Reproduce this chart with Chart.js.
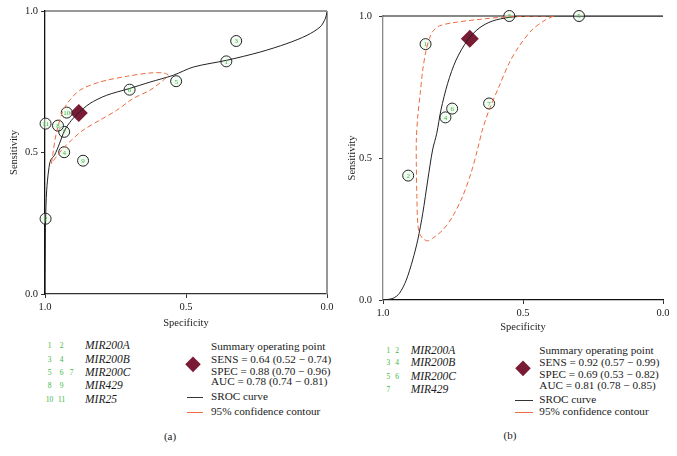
<!DOCTYPE html>
<html><head><meta charset="utf-8">
<script src="https://cdn.jsdelivr.net/npm/chart.js@4.4.1/dist/chart.umd.min.js"></script>
<style>
body{margin:0;width:677px;height:456px;background:#fff;position:relative;overflow:hidden;font-family:'Liberation Serif',serif;color:#1a1a1a}
canvas{position:absolute;top:0}
.t{position:absolute;white-space:nowrap;line-height:1;transform:translateY(-50%);font-size:11.2px}
.c{transform:translate(-50%,-50%)}
.n{position:absolute;white-space:nowrap;line-height:1;transform:translate(-50%,-50%);font-size:7.5px;color:#3db83d}
.mir{font-style:italic;font-size:11.5px}
.dia{position:absolute;width:10.5px;height:10.5px;background:#7a1b35;transform:translate(-50%,-50%) rotate(45deg)}
.ln{position:absolute;height:0}
</style></head><body>
<canvas id="ca" width="340" height="332" style="left:0"></canvas>
<canvas id="cb" width="332" height="336" style="left:340px"></canvas>
<div id="legend"></div>
<script>
// ---------- Panel (a) data ----------
const studyLabelsA = ['1','2','3','4','5','6','7','8','9','10','11'];
const studySpecA   = [0.357,0.998,0.322,0.932,0.535,0.700,0.932,0.954,0.865,0.923,0.998];
const studySensA   = [0.822,0.266,0.894,0.501,0.752,0.722,0.573,0.595,0.471,0.641,0.602];
const summarySpecA = [0.88];
const summarySensA = [0.64];
const srocSpecA = [1.0,0.999,0.998,0.994,0.987,0.980,0.966,0.948,0.930,0.906,0.883,0.841,0.782,0.701,0.627,0.545,0.474,0.355,0.237,0.142,0.071,0.024,0.006,0.0];
const srocSensA = [0.0,0.155,0.261,0.367,0.438,0.473,0.491,0.533,0.579,0.614,0.638,0.673,0.702,0.726,0.749,0.773,0.802,0.826,0.855,0.885,0.914,0.944,0.973,0.996];
const contourSpecA = [0.977,0.972,0.960,0.936,0.912,0.877,0.806,0.711,0.628,0.581,0.563,0.581,0.628,0.687,0.746,0.806,0.865,0.906,0.936,0.960,0.977];
const contourSensA = [0.461,0.497,0.567,0.649,0.685,0.720,0.749,0.769,0.781,0.781,0.773,0.755,0.720,0.691,0.649,0.614,0.579,0.544,0.514,0.485,0.461];

// ---------- Panel (b) data ----------
const studyLabelsB = ['1','2','3','4','5','6','7'];
const studySpecB   = [0.848,0.910,0.549,0.777,0.300,0.753,0.621];
const studySensB   = [0.901,0.438,1.000,0.643,1.000,0.674,0.692];
const summarySpecB = [0.69];
const summarySensB = [0.92];
const srocSpecB = [1.0,0.964,0.941,0.917,0.894,0.876,0.858,0.840,0.823,0.808,0.793,0.769,0.739,0.698,0.657,0.610,0.550,0.479,0.300,0.0];
const srocSensB = [0.0,0.006,0.024,0.070,0.141,0.211,0.305,0.423,0.528,0.587,0.669,0.763,0.845,0.915,0.957,0.982,0.995,1.0,1.0,1.0];
const contourSpecB = [0.390,0.539,0.657,0.752,0.799,0.823,0.834,0.846,0.858,0.867,0.876,0.881,0.881,0.879,0.876,0.870,0.858,0.840,0.823,0.787,0.752,0.716,0.686,0.663,0.645,0.621,0.586,0.550,0.515,0.468,0.420,0.390];
const contourSensB = [1.000,0.998,0.988,0.976,0.965,0.945,0.921,0.880,0.810,0.728,0.645,0.563,0.481,0.364,0.270,0.235,0.217,0.208,0.217,0.246,0.293,0.364,0.446,0.528,0.599,0.669,0.751,0.833,0.892,0.951,0.986,1.000];

const tickValues = [0, 0.5, 1];
const tickLabels = ['0.0','0.5','1.0'];

// ---------- legend data ----------
const legendGroupsA = [['1','2'],['3','4'],['5','6','7'],['8','9'],['10','11']];
const legendNamesA  = ['MIR200A','MIR200B','MIR200C','MIR429','MIR25'];
const summaryTextA  = ['Summary operating point','SENS = 0.64 (0.52 \u2212 0.74)','SPEC = 0.88 (0.70 \u2212 0.96)','AUC = 0.78 (0.74 \u2212 0.81)'];
const legendGroupsB = [['1','2'],['3','4'],['5','6'],['7']];
const legendNamesB  = ['MIR200A','MIR200B','MIR200C','MIR429'];
const summaryTextB  = ['Summary operating point','SENS = 0.92 (0.57 \u2212 0.99)','SPEC = 0.69 (0.53 \u2212 0.82)','AUC = 0.81 (0.78 \u2212 0.85)'];

const FONT = "'Liberation Serif', 'DejaVu Serif', serif";
Chart.defaults.font.family = FONT;
Chart.defaults.color = '#1a1a1a';

const zip = (xs, ys) => xs.map((x, i) => ({x, y: ys[i]}));

const numberPlugin = {
  id: 'numlabels',
  afterDatasetsDraw(chart) {
    const ctx = chart.ctx;
    chart.data.datasets.forEach((ds, di) => {
      if (!ds.numLabels) return;
      const meta = chart.getDatasetMeta(di);
      ctx.save();
      ctx.font = "7px " + FONT;
      ctx.fillStyle = '#3db83d';
      ctx.textAlign = 'center';
      ctx.textBaseline = 'middle';
      meta.data.forEach((pt, i) => ctx.fillText(ds.numLabels[i], pt.x, pt.y + 0.5));
      ctx.restore();
    });
  }
};
const framePlugin = {
  id: 'frame',
  beforeDatasetsDraw(chart, args, opts) {
    const {ctx, chartArea: a} = chart;
    ctx.save();
    ctx.lineWidth = 1.2;
    ctx.strokeStyle = opts.topColor || '#222';
    ctx.beginPath(); ctx.moveTo(a.left, a.top); ctx.lineTo(a.right, a.top); ctx.stroke();
    if (opts.rightColor) {
      ctx.lineWidth = 1.8;
      ctx.strokeStyle = opts.rightColor;
      ctx.beginPath(); ctx.moveTo(a.right, a.top); ctx.lineTo(a.right, a.bottom); ctx.stroke();
    }
    ctx.restore();
  }
};

function makeChart(id, d, cfg) {
  return new Chart(document.getElementById(id), {
    type: 'scatter',
    data: {
      datasets: [
        {type: 'line', data: zip(d.cSpec, d.cSens), borderColor: '#ec6a3e', borderWidth: 1, borderDash: [5, 3], pointRadius: 0, tension: 0.3, fill: false},
        {type: 'line', data: zip(d.sSpec, d.sSens), borderColor: '#222', borderWidth: 1, pointRadius: 0, tension: 0.3, fill: false},
        {data: zip(d.pSpec, d.pSens), numLabels: d.labels, pointStyle: 'circle', pointRadius: 5.5, borderWidth: 1, borderColor: '#222', backgroundColor: 'rgba(232,247,232,0.55)', clip: false},
        {data: zip(d.mSpec, d.mSens), pointStyle: 'rectRot', pointRadius: 9, borderWidth: 0, borderColor: '#7a1b35', backgroundColor: '#7a1b35', clip: false}
      ]
    },
    options: {
      responsive: false, animation: false, devicePixelRatio: 1,
      layout: {padding: cfg.padding},
      plugins: {legend: {display: false}, tooltip: {enabled: false}, frame: cfg.frame},
      scales: {
        x: {
          type: 'linear', min: 0, max: 1, reverse: true,
          afterBuildTicks: s => { s.ticks = tickValues.map(v => ({value: v})); },
          afterFit: s => { s.height = cfg.xHeight; },
          ticks: {callback: v => tickLabels[tickValues.indexOf(v)], font: {size: 10.5}, padding: 3, maxRotation: 0, color: '#1a1a1a'},
          grid: {display: true, drawOnChartArea: false, drawTicks: true, tickLength: 4, color: '#333'},
          border: {display: true, color: cfg.xBorder, width: 1.3},
          title: {display: true, text: 'Specificity', font: {size: 10.5}, padding: {top: 0, bottom: 2}, color: '#1a1a1a'}
        },
        y: {
          type: 'linear', min: 0, max: 1,
          afterBuildTicks: s => { s.ticks = tickValues.map(v => ({value: v})); },
          afterFit: s => { s.width = cfg.yWidth; },
          ticks: {callback: v => tickLabels[tickValues.indexOf(v)], font: {size: 10.5}, padding: cfg.yPad, color: '#1a1a1a'},
          grid: {display: true, drawOnChartArea: false, drawTicks: true, tickLength: 4, color: '#333'},
          border: {display: true, color: cfg.yBorder, width: 1.3},
          title: {display: true, text: 'Sensitivity', font: {size: 10.5}, padding: {top: cfg.yTitlePad, bottom: 0}, color: '#1a1a1a'}
        }
      }
    },
    plugins: [numberPlugin, framePlugin]
  });
}

makeChart('ca', {cSpec: contourSpecA, cSens: contourSensA, sSpec: srocSpecA, sSens: srocSensA, pSpec: studySpecA, pSens: studySensA, labels: studyLabelsA, mSpec: summarySpecA, mSens: summarySensA},
  {padding: {left: 0, right: 13, top: 11, bottom: 0}, xHeight: 38, yWidth: 45, yPad: 3, yTitlePad: 7.5, xBorder: '#333', yBorder: '#111', frame: {topColor: '#333', rightColor: '#8c8c8c'}});
makeChart('cb', {cSpec: contourSpecB, cSens: contourSensB, sSpec: srocSpecB, sSens: srocSensB, pSpec: studySpecB, pSens: studySensB, labels: studyLabelsB, mSpec: summarySpecB, mSens: summarySensB},
  {padding: {left: 0, right: 7, top: 16, bottom: 0}, xHeight: 36, yWidth: 43, yPad: 7, yTitlePad: 6.4, xBorder: '#111', yBorder: '#888', frame: {topColor: '#111'}});

// ---------- HTML legends ----------
const L = document.getElementById('legend');
function add(html, cls, x, y, extra) {
  const e = document.createElement('div');
  e.className = cls; e.innerHTML = html;
  e.style.left = x + 'px'; e.style.top = y + 'px';
  if (extra) Object.assign(e.style, extra);
  L.appendChild(e);
}
function legend(o) {
  o.groups.forEach((g, i) => {
    const y = o.rowY[i];
    g.forEach((n, j) => add(n, 'n', o.numX[j], y));
    add(o.names[i], 't mir', o.nameX, y);
  });
  o.summary.forEach((s, i) => add(s, 't', o.textX, o.sumY[i]));
  add('', 'dia', o.diaX, o.diaY);
  add('', 'ln', o.lineX0, o.srocY, {width: (o.lineX1 - o.lineX0) + 'px', borderTop: '1.3px solid #333'});
  add('SROC curve', 't', o.textX, o.srocY);
  add('', 'ln', o.lineX0, o.ciY, {width: (o.lineX1 - o.lineX0) + 'px', borderTop: '1.3px solid #ec6a3e'});
  add('95% confidence contour', 't', o.textX, o.ciY);
  add(o.tag, 't c', o.tagX, o.tagY, {fontSize: '11px'});
}
legend({groups: legendGroupsA, names: legendNamesA, summary: summaryTextA,
  rowY: [345.5, 359.5, 372.5, 386, 399.7], numX: [49.5, 61.7, 71.7], nameX: 85,
  textX: 211, sumY: [346.7, 360.3, 371.5, 382.3], diaX: 193.3, diaY: 363.5,
  lineX0: 187, lineX1: 203, srocY: 397.3, ciY: 412.3, tag: '(a)', tagX: 170, tagY: 435.7});
legend({groups: legendGroupsB, names: legendNamesB, summary: summaryTextB,
  rowY: [350.7, 363.3, 376.7, 389.7], numX: [388.3, 397], nameX: 410.7,
  textX: 539.3, sumY: [350.7, 363.3, 375.3, 386.3], diaX: 523.3, diaY: 368.3,
  lineX0: 515, lineX1: 533, srocY: 400, ciY: 412.3, tag: '(b)', tagX: 510, tagY: 434.7});
</script>
</body></html>
